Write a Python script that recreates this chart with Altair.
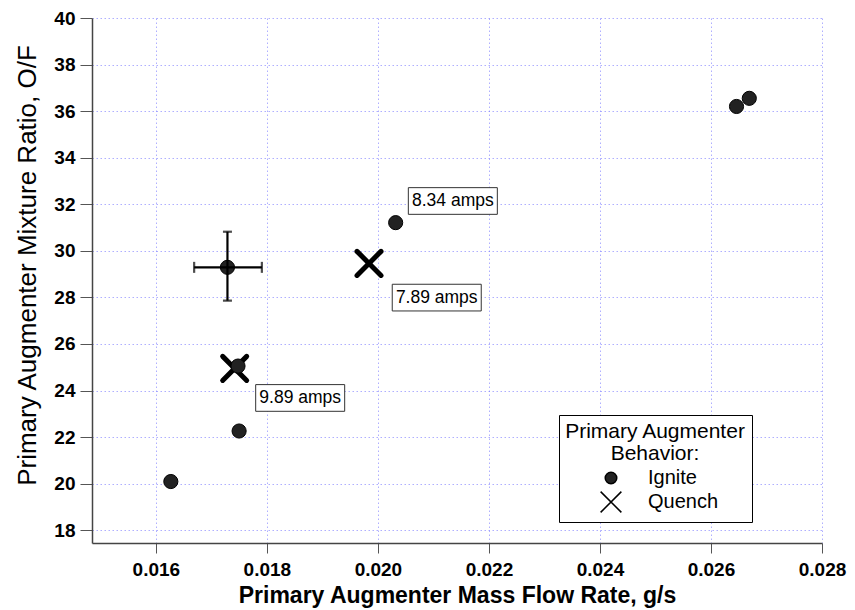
import altair as alt
import pandas as pd

FONT = "Liberation Sans"
XPATH = "M-1.8,-1.8L1.8,1.8M-1.8,1.8L1.8,-1.8"
BOX = "M-1,-0.3L1,-0.3L1,0.3L-1,0.3Z"

# ---- data ----
ignite_x = [0.01627, 0.01750, 0.01748, 0.01729, 0.02032, 0.02646, 0.02669]
ignite_y = [20.09, 22.26, 25.05, 29.29, 31.21, 36.20, 36.55]
quench_x = [0.01742, 0.01984]
quench_y = [24.95, 29.46]

err_x = [0.01729]
err_y = [29.29]
err_xlo = [0.01669]
err_xhi = [0.01791]
err_ylo = [27.86]
err_yhi = [30.82]

ann_text = ["8.34 amps", "7.89 amps", "9.89 amps"]
ann_x = [0.02135, 0.02106, 0.01860]
ann_y = [32.14, 27.99, 23.68]

x_ticks = [0.016, 0.018, 0.020, 0.022, 0.024, 0.026, 0.028]
y_ticks = [18, 20, 22, 24, 26, 28, 30, 32, 34, 36, 38, 40]
behaviors = ["Ignite", "Quench"]

ignite = pd.DataFrame({"x": ignite_x, "y": ignite_y, "behavior": "Ignite"})
quench = pd.DataFrame({"x": quench_x, "y": quench_y, "behavior": "Quench"})
err = pd.DataFrame({"x": err_x, "y": err_y, "xlo": err_xlo, "xhi": err_xhi,
                    "ylo": err_ylo, "yhi": err_yhi})
caps_x = pd.DataFrame({"x": err_xlo + err_xhi, "y": err_y + err_y})
caps_y = pd.DataFrame({"x": err_x + err_x, "y": err_ylo + err_yhi})
ann = pd.DataFrame({"x": ann_x, "y": ann_y, "label": ann_text})

xs = alt.Scale(domain=[0.01485, 0.028], nice=False, zero=False)
ys = alt.Scale(domain=[17.45, 40], nice=False, zero=False)

common = dict(
    labelFont=FONT, labelFontWeight="bold", labelFontSize=19, labelColor="black",
    titleFont=FONT, titleColor="black",
    tickColor="#555", tickWidth=1, domainColor="#444", domainWidth=1.5,
    grid=True, gridColor="#7a7aff", gridOpacity=0.6, gridDash=[1.5, 2.5], gridWidth=1,
    labelFlush=False, labelOverlap=False,
)
x_axis = alt.Axis(values=x_ticks, format=".3f",
                  title="Primary Augmenter Mass Flow Rate, g/s",
                  titleFontSize=23, titleFontWeight="bold",
                  titleY=59, titleBaseline="alphabetic",
                  tickSize=10, labelPadding=7, **common)
y_axis = alt.Axis(values=y_ticks, format="d",
                  title="Primary Augmenter Mixture Ratio, O/F",
                  titleFontSize=26, titleFontWeight="normal",
                  titleX=-65, titleY=247, titleAngle=270,
                  titleAlign="center", titleBaseline="middle",
                  tickSize=12, labelPadding=5, **common)

X = alt.X("x:Q", scale=xs, axis=x_axis)
Y = alt.Y("y:Q", scale=ys, axis=y_axis)

legend = alt.Legend(
    title=["Primary Augmenter", "Behavior:"],
    orient="none", legendX=467, legendY=397, direction="vertical",
    fillColor="white", strokeColor="black", padding=6, cornerRadius=0,
    titleFont=FONT, titleFontSize=21, titleFontWeight="normal", titleColor="black",
    titleAnchor="middle", titleAlign="center", titleLineHeight=22, titlePadding=4,
    titleLimit=400,
    labelFont=FONT, labelFontSize=20, labelColor="black", labelOffset=27,
    symbolOffset=9, symbolSize=133, symbolStrokeWidth=1.5, rowPadding=0,
)
shape = alt.Shape("behavior:N",
                  scale=alt.Scale(domain=behaviors, range=["circle", XPATH]),
                  legend=legend)
fill = alt.Fill("behavior:N",
                scale=alt.Scale(domain=behaviors, range=["#222222", "#222222"]),
                legend=legend)
stroke = alt.Stroke("behavior:N",
                    scale=alt.Scale(domain=behaviors, range=["black", "black"]),
                    legend=legend)

quench_layer = alt.Chart(quench).mark_point(
    strokeWidth=5, size=178, strokeCap="round", opacity=1
).encode(x=X, y=Y, shape=shape, fill=fill, stroke=stroke)

ignite_layer = alt.Chart(ignite).mark_point(
    strokeWidth=1, size=200, opacity=1
).encode(x=X, y=Y, shape=shape, fill=fill, stroke=stroke)

hbar = alt.Chart(err).mark_rule(color="black", strokeWidth=2.2).encode(
    x=alt.X("xlo:Q", scale=xs, axis=x_axis), x2="xhi:Q", y=Y)
vbar = alt.Chart(err).mark_rule(color="black", strokeWidth=2.2).encode(
    x=X, y=alt.Y("ylo:Q", scale=ys, axis=y_axis), y2="yhi:Q")
capx = alt.Chart(caps_x).mark_tick(color="black", orient="vertical", size=11,
                                   thickness=2.2).encode(x=X, y=Y)
capy = alt.Chart(caps_y).mark_tick(color="black", orient="horizontal", size=9,
                                   thickness=2.2).encode(x=X, y=Y)

boxes = alt.Chart(ann).mark_point(
    shape=BOX, size=89 * 89, filled=True, fill="white", stroke="#333",
    strokeWidth=1, opacity=1
).encode(x=X, y=Y)
texts = alt.Chart(ann).mark_text(
    font=FONT, fontSize=17.5, color="black", align="center", baseline="middle"
).encode(x=X, y=Y, text="label:N")

chart = alt.layer(
    quench_layer, ignite_layer, hbar, vbar, capx, capy, boxes, texts
).properties(
    width=730, height=525,
    padding={"left": 84, "top": 10, "right": 25, "bottom": 66},
    autosize=alt.AutoSizeParams(type="none"),
    background="white",
).configure_view(stroke=None)

chart.save("out.html", embed_options={"renderer": "svg", "actions": False})
